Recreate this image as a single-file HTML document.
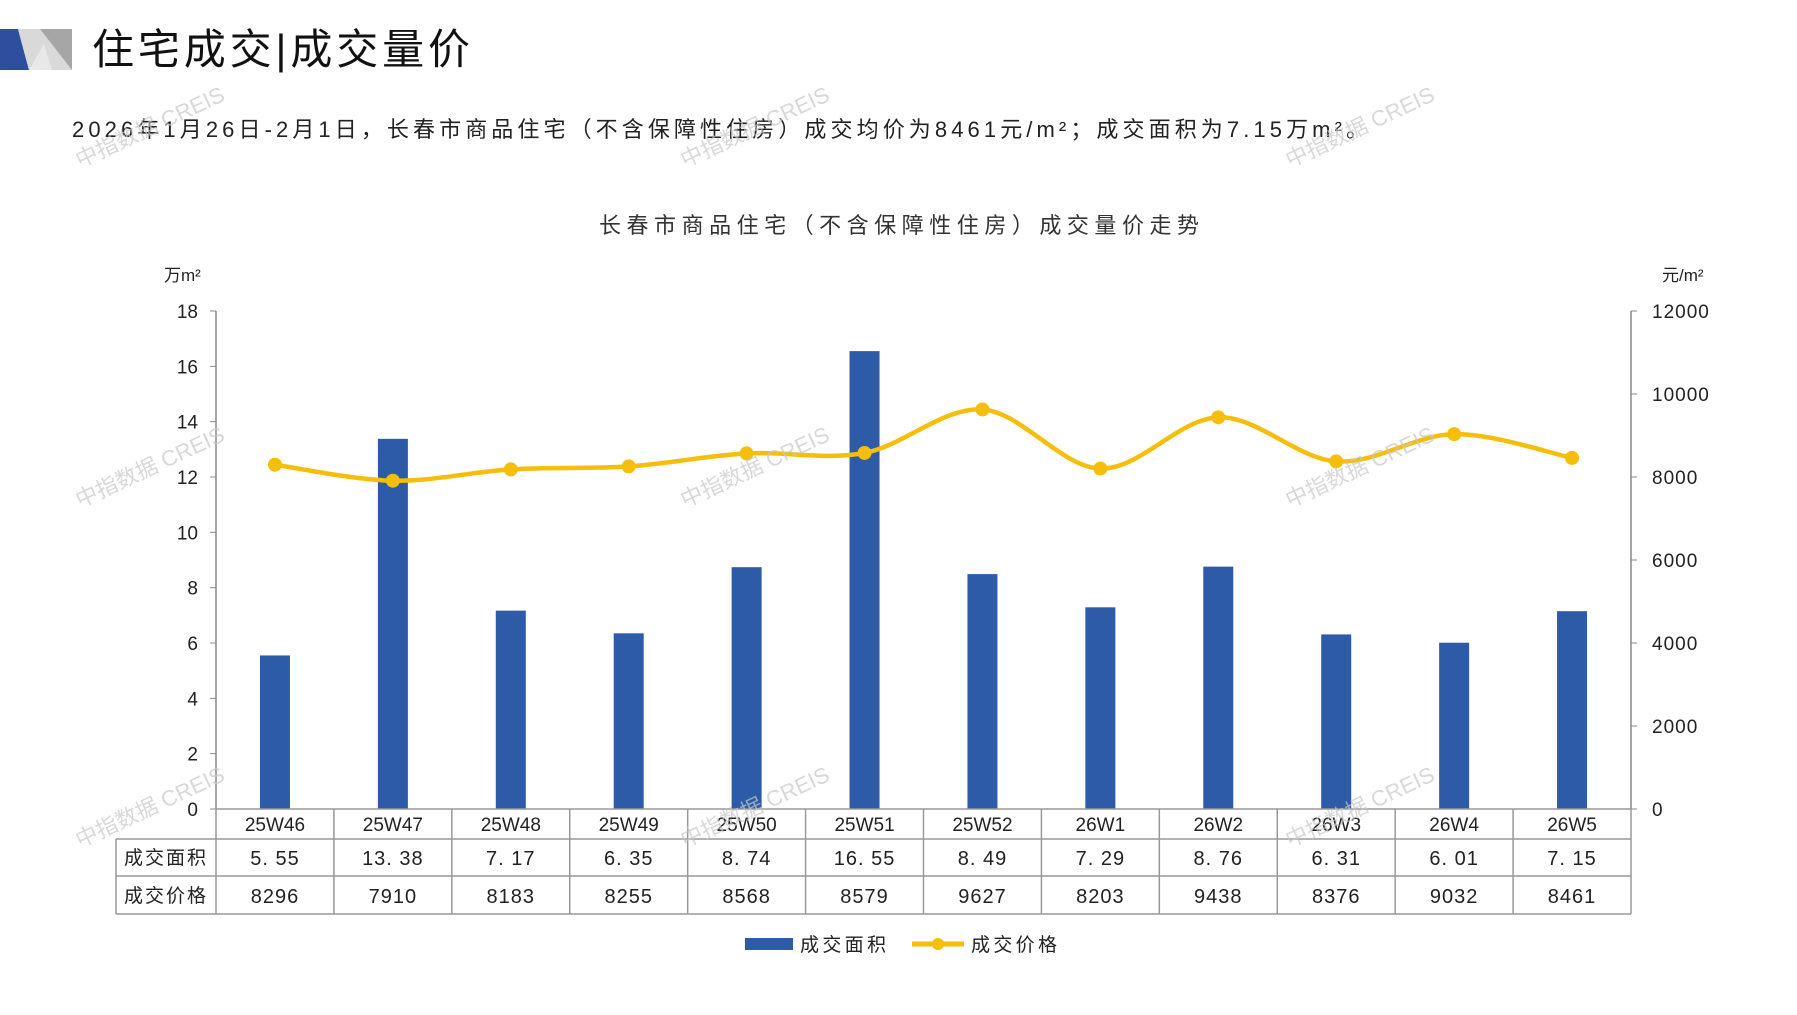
<!DOCTYPE html>
<html><head><meta charset="utf-8"><style>
html,body{margin:0;padding:0;background:#fff;}
body{width:1797px;height:1010px;overflow:hidden;position:relative;font-family:"Liberation Sans","Noto Sans CJK SC",sans-serif;}
svg text{font-family:"Liberation Sans","Noto Sans CJK SC",sans-serif;}
</style></head><body>
<svg id="s" width="1797" height="1010" viewBox="0 0 1797 1010" xmlns="http://www.w3.org/2000/svg">
<polygon points="0,29 18,29 29,70 0,70" fill="#2E4E9E"/>
<polygon points="18,29 72,29 72,70 29,70" fill="#d9d9d9"/>
<polygon points="40,29 72,29 72,70" fill="#a6a6a6"/>
<polygon points="29,70 44,44 52,70" fill="#e8e8e8"/>
<text x="92" y="64" font-size="42" fill="#111" textLength="378" lengthAdjust="spacing" font-family="'Noto Serif CJK SC',serif">住宅成交|成交量价</text>
<text x="72" y="137" font-size="22" fill="#222" textLength="1296" lengthAdjust="spacing">2026年1月26日-2月1日，长春市商品住宅（不含保障性住房）成交均价为8461元/m²；成交面积为7.15万m²。</text>
<text x="599" y="233" font-size="22" fill="#333" textLength="600" lengthAdjust="spacing">长春市商品住宅（不含保障性住房）成交量价走势</text>
<text x="164" y="281" font-size="17" fill="#222">万m²</text>
<text x="1662" y="281" font-size="17" fill="#222">元/m²</text>
<g id="g"></g>
<g fill="#c8c8c8" font-size="22" opacity="0.7">
<text transform="translate(80,168) rotate(-25)">中指数据 CREIS</text>
<text transform="translate(685,168) rotate(-25)">中指数据 CREIS</text>
<text transform="translate(1290,168) rotate(-25)">中指数据 CREIS</text>
<text transform="translate(80,508) rotate(-25)">中指数据 CREIS</text>
<text transform="translate(685,508) rotate(-25)">中指数据 CREIS</text>
<text transform="translate(1290,508) rotate(-25)">中指数据 CREIS</text>
<text transform="translate(80,848) rotate(-25)">中指数据 CREIS</text>
<text transform="translate(685,848) rotate(-25)">中指数据 CREIS</text>
<text transform="translate(1290,848) rotate(-25)">中指数据 CREIS</text>
</g>
<rect x="745" y="938" width="48" height="12" fill="#2E5BA8"/>
<text x="800" y="951" font-size="19" fill="#222" textLength="86" lengthAdjust="spacing">成交面积</text>
<line x1="912" y1="944" x2="964" y2="944" stroke="#F5BE0A" stroke-width="5"/>
<circle cx="938" cy="944" r="6" fill="#F5BE0A"/>
<text x="971" y="951" font-size="19" fill="#222" textLength="86" lengthAdjust="spacing">成交价格</text>
</svg>
<script>
var cats=["25W46","25W47","25W48","25W49","25W50","25W51","25W52","26W1","26W2","26W3","26W4","26W5"];
var area=[5.55,13.38,7.17,6.35,8.74,16.55,8.49,7.29,8.76,6.31,6.01,7.15];
var areaT=["5. 55","13. 38","7. 17","6. 35","8. 74","16. 55","8. 49","7. 29","8. 76","6. 31","6. 01","7. 15"];
var price=[8296,7910,8183,8255,8568,8579,9627,8203,9438,8376,9032,8461];
var L=216,R=1631,T=311,B=809,W=(R-L)/12,H=B-T;
var h='';
for(var i=0;i<=9;i++){var y=B-i*H/9;h+='<line x1="'+(L-6)+'" y1="'+y+'" x2="'+L+'" y2="'+y+'" stroke="#888"/>';
h+='<text x="198" y="'+(y+7)+'" font-size="19" fill="#222" text-anchor="end">'+(i*2)+'</text>';}
for(var i=0;i<=6;i++){var y=B-i*H/6;h+='<line x1="'+R+'" y1="'+y+'" x2="'+(R+6)+'" y2="'+y+'" stroke="#888"/>';
h+='<text x="1652" y="'+(y+7)+'" font-size="19" fill="#222" letter-spacing="1">'+(i*2000)+'</text>';}
h+='<line x1="'+L+'" y1="'+T+'" x2="'+L+'" y2="'+B+'" stroke="#888" stroke-width="1.5"/>';
h+='<line x1="'+R+'" y1="'+T+'" x2="'+R+'" y2="'+B+'" stroke="#888" stroke-width="1.5"/>';
var pts=[];
for(var i=0;i<12;i++){var cx=L+W*(i+0.5);var bh=area[i]/18*H;
h+='<rect x="'+(cx-15)+'" y="'+(B-bh)+'" width="30" height="'+bh+'" fill="#2E5BA8"/>';
pts.push([cx,B-price[i]/12000*H]);}
var st='stroke="#999" stroke-width="1.5"';
var r1=839,r2=876,r3=914;
h+='<line x1="'+L+'" y1="'+B+'" x2="'+R+'" y2="'+B+'" '+st+'/>';
h+='<line x1="116" y1="'+r1+'" x2="'+R+'" y2="'+r1+'" '+st+'/>';
h+='<line x1="116" y1="'+r2+'" x2="'+R+'" y2="'+r2+'" '+st+'/>';
h+='<line x1="116" y1="'+r3+'" x2="'+R+'" y2="'+r3+'" '+st+'/>';
h+='<line x1="116" y1="'+r1+'" x2="116" y2="'+r3+'" '+st+'/>';
for(var i=0;i<=12;i++){var x=L+W*i;h+='<line x1="'+x+'" y1="'+B+'" x2="'+x+'" y2="'+r3+'" '+st+'/>';}
h+='<text x="166" y="864" font-size="19" fill="#222" text-anchor="middle" letter-spacing="2">成交面积</text>';
h+='<text x="166" y="902" font-size="19" fill="#222" text-anchor="middle" letter-spacing="2">成交价格</text>';
for(var i=0;i<12;i++){var cx=L+W*(i+0.5);
h+='<text x="'+cx+'" y="831" font-size="19" fill="#222" text-anchor="middle">'+cats[i]+'</text>';
h+='<text x="'+cx+'" y="865" font-size="20" fill="#222" text-anchor="middle" letter-spacing="1">'+areaT[i]+'</text>';
h+='<text x="'+cx+'" y="903" font-size="20" fill="#222" text-anchor="middle" letter-spacing="1">'+price[i]+'</text>';}
var d='M'+pts[0][0]+','+pts[0][1];
for(var i=0;i<11;i++){var p0=pts[Math.max(i-1,0)],p1=pts[i],p2=pts[i+1],p3=pts[Math.min(i+2,11)];
d+=' C'+(p1[0]+(p2[0]-p0[0])/6)+','+(p1[1]+(p2[1]-p0[1])/6)+' '+(p2[0]-(p3[0]-p1[0])/6)+','+(p2[1]-(p3[1]-p1[1])/6)+' '+p2[0]+','+p2[1];}
h+='<path d="'+d+'" fill="none" stroke="#F5BE0A" stroke-width="4.5"/>';
for(var i=0;i<12;i++)h+='<circle cx="'+pts[i][0]+'" cy="'+pts[i][1]+'" r="7" fill="#F5BE0A"/>';
document.getElementById('g').innerHTML=h;
</script>
</body></html>
